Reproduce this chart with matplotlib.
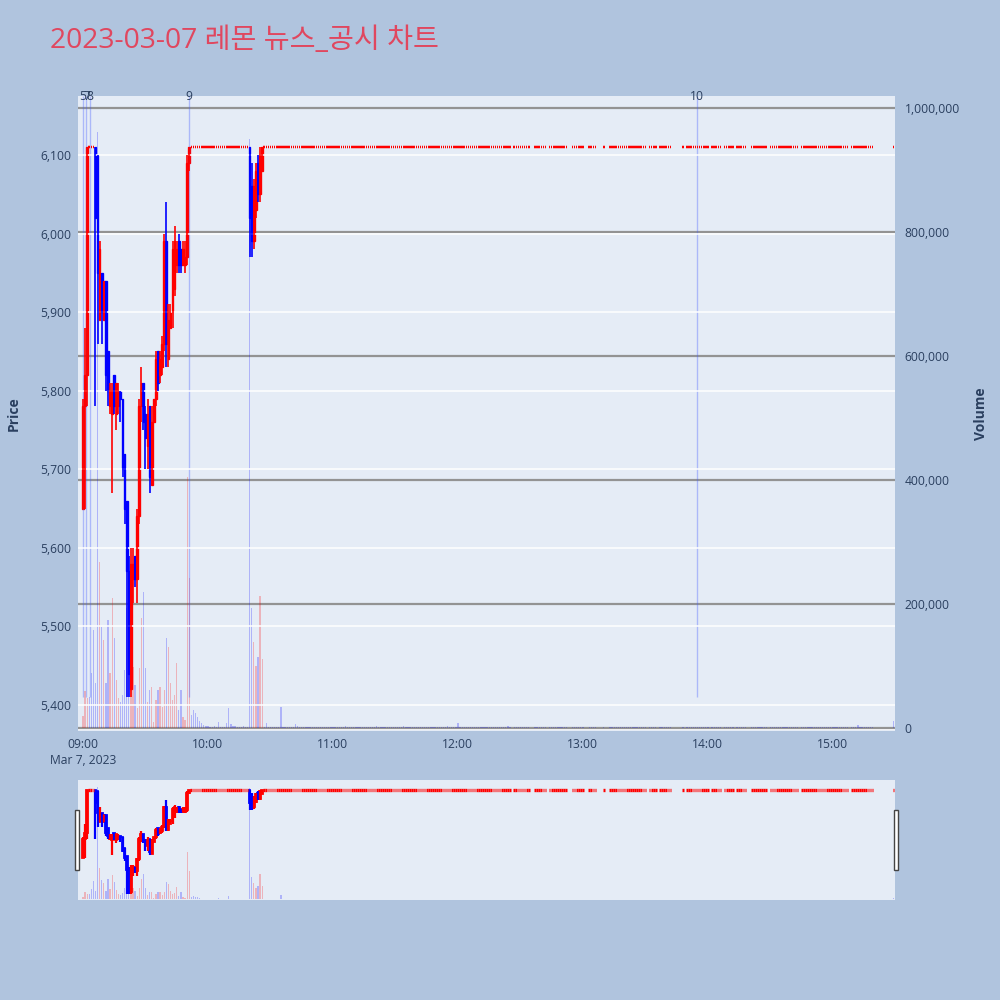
import matplotlib
matplotlib.use('Agg')
import matplotlib.pyplot as plt
from matplotlib.patches import Rectangle
from matplotlib.ticker import FuncFormatter

plt.rcParams['font.family'] = ['Open Sans', 'Noto Sans CJK KR', 'DejaVu Sans']

TITLE = '2023-03-07 레몬 뉴스_공시 차트'

# minutes after 09:00 -- busy opening hour (09:00 .. 09:51)
am_open = [5650, 5780, 5820, 6110, 6110, 6110, 6110, 6100, 5890, 5950,
           5890, 5940, 5850, 5780, 5770, 5820, 5770, 5780, 5800, 5790,
           5720, 5660, 5570, 5420, 5560, 5590, 5560, 5640, 5780, 5810,
           5770, 5730, 5780, 5680, 5760, 5790, 5850, 5820, 5830, 5860,
           5990, 5840, 5880, 5900, 5930, 5960, 5990, 5980, 5960, 5960,
           5970, 6090]
am_high = [5790, 5880, 6110, 6110, 6110, 6110, 6110, 6100, 5990, 5950,
           5940, 5940, 5850, 5810, 5810, 5820, 5810, 5810, 5800, 5790,
           5720, 5660, 5590, 5600, 5600, 5590, 5650, 5790, 5830, 5810,
           5780, 5790, 5780, 5780, 5790, 5850, 5850, 5850, 5870, 6000,
           6040, 5910, 5910, 5990, 6010, 5990, 6000, 5980, 5990, 5990,
           6100, 6110]
am_low = [5650, 5650, 5780, 6110, 6110, 6110, 5780, 5860, 5890, 5860,
          5890, 5800, 5780, 5770, 5670, 5770, 5750, 5770, 5760, 5690,
          5630, 5410, 5410, 5410, 5530, 5550, 5530, 5630, 5760, 5750,
          5700, 5700, 5670, 5680, 5760, 5780, 5800, 5810, 5820, 5850,
          5830, 5830, 5880, 5880, 5920, 5950, 5950, 5950, 5960, 5950,
          5960, 6080]
am_close = [5780, 5820, 6110, 6110, 6110, 6110, 6020, 5950, 5980, 5900,
            5940, 5820, 5800, 5800, 5800, 5780, 5810, 5800, 5790, 5700,
            5650, 5570, 5440, 5580, 5580, 5560, 5640, 5780, 5810, 5760,
            5740, 5770, 5690, 5760, 5790, 5840, 5810, 5840, 5860, 5990,
            5860, 5890, 5900, 5980, 5990, 5980, 5960, 5960, 5980, 5970,
            6090, 6110]
am_vol = [20000, 60000, 48000, 50000, 89000, 158000, 72000, 962000, 268000, 163000,
          142000, 72000, 174000, 89000, 210000, 145000, 77000, 48000, 42000, 53000,
          94000, 194000, 98000, 97000, 98000, 69000, 32000, 97000, 177000, 219000,
          97000, 42000, 61000, 66000, 10000, 45000, 61000, 66000, 34000, 61000,
          145000, 131000, 72000, 45000, 53000, 105000, 29000, 61000, 18000, 13000,
          405000, 242000]

# second burst around 10:20
burst_min = [80, 81, 82, 83, 84, 85, 86]
burst_open = [6110, 6060, 5990, 6030, 6090, 6050, 6080]
burst_high = [6110, 6090, 6070, 6090, 6100, 6110, 6110]
burst_low = [5970, 5970, 5980, 6020, 6040, 6040, 6080]
burst_close = [6020, 5990, 6060, 6080, 6050, 6100, 6110]
burst_vol = [950000, 194000, 139000, 100000, 115000, 213000, 111000]

# minutes trading flat at the upper price
flat_price = 6110
flat_runs = [(52, 79), (87, 205), (207, 214), (217, 222), (224, 232), (235, 240),
             (243, 246), (250, 250), (253, 270), (272, 275), (277, 282), (288, 288),
             (290, 300), (302, 306), (308, 312), (314, 318), (321, 328), (330, 343),
             (345, 353), (354, 361), (362, 367), (369, 379), (389, 389)]
flat_vol_default = 1200
flat_vol_min = [52, 53, 54, 55, 56, 57, 58, 59, 60, 61, 62, 63, 64, 65, 66, 67, 68, 69,
                70, 71, 72, 73, 74, 75, 76, 77, 78, 79, 88, 95, 102, 103, 126, 141,
                154, 175, 180, 204, 372, 389]
flat_vol_val = [21000, 29000, 24000, 18000, 12000, 8000, 5000, 4000, 3000, 2000, 2000,
                3000, 1000, 10000, 2000, 1000, 2000, 8000, 32000, 6000, 3000, 4000,
                2000, 1000, 1000, 4000, 1000, 1000, 8000, 34000, 6000, 4000, 3000,
                3000, 3000, 3000, 8000, 3000, 5000, 11000]

# disclosure / news markers
news_min = [0.0, 1.6, 3.2, 50.9, 294.7]
news_label = ['5', '7', '8', '9', '10']

tick_min = [0, 60, 120, 180, 240, 300, 360]
tick_lab = ['09:00\nMar 7, 2023', '10:00', '11:00', '12:00', '13:00', '14:00', '15:00']

# assemble
flat_min = [m for a, b in flat_runs for m in range(a, b + 1)]
am_min = list(range(len(am_open)))
mins = am_min + burst_min + flat_min
opens = am_open + burst_open + [flat_price] * len(flat_min)
highs = am_high + burst_high + [flat_price] * len(flat_min)
lows = am_low + burst_low + [flat_price] * len(flat_min)
closes = am_close + burst_close + [flat_price] * len(flat_min)
fv = dict(zip(flat_vol_min, flat_vol_val))
vols = am_vol + burst_vol + [fv.get(m, flat_vol_default) for m in flat_min]

UP, DOWN = '#ff0000', '#0000ff'
VUP, VDOWN = (1, 0, 0, 0.24), (0, 0, 1, 0.24)
BG, PLOT_BG, TXT = '#b0c4de', '#e5ecf6', '#2a3f5f'
XLIM = (-2.4, 389.8)
PLIM = (5367, 6175)
VLIM = (-4800, 1019400)


def draw(axp, axv, body_w, lw):
    vcol = [VUP if c > o else VDOWN for o, c in zip(opens, closes)]
    axv.bar(mins, vols, width=0.6, color=vcol, linewidth=0)
    ccol = [UP if c >= o else DOWN for o, c in zip(opens, closes)]
    axp.vlines(mins, lows, highs, colors=ccol, lw=lw)
    for m, o, c, col in zip(mins, opens, closes, ccol):
        if o == c:
            axp.hlines(c, m - body_w / 2, m + body_w / 2, color=col, lw=lw * 1.5)
        else:
            axp.bar(m, abs(c - o), bottom=min(o, c), width=body_w,
                    color=col, edgecolor=col, lw=lw * 0.8)


fig = plt.figure(figsize=(10, 10), dpi=100, facecolor=BG)

# main chart
axv = fig.add_axes([0.078, 0.269, 0.817, 0.635], facecolor=PLOT_BG)
axp = axv.twinx()
axp.set_zorder(axv.get_zorder() + 1)
axp.patch.set_visible(False)
draw(axp, axv, 0.75, 1.2)

axv.set_xlim(*XLIM)
axv.set_ylim(*VLIM)
axp.set_ylim(*PLIM)
axv.yaxis.tick_right()
axv.yaxis.set_label_position('right')
axp.yaxis.tick_left()
axp.yaxis.set_label_position('left')
axv.set_yticks([0, 200000, 400000, 600000, 800000, 1000000])
axv.yaxis.set_major_formatter(FuncFormatter(lambda v, p: f'{int(v):,}'))
axp.set_yticks(range(5400, 6101, 100))
axp.yaxis.set_major_formatter(FuncFormatter(lambda v, p: f'{int(v):,}'))
axv.grid(axis='y', color='#939393', lw=1.6)
axv.axhline(0, color='white', lw=2, zorder=0.5)
axp.grid(axis='y', color='white', lw=1.1)
axv.set_axisbelow(True)
axv.set_xticks(tick_min)
axv.set_xticklabels(tick_lab, linespacing=1.3)
for a in (axv, axp):
    for s in a.spines.values():
        s.set_visible(False)
    a.tick_params(length=0, labelsize=8.7, labelcolor=TXT)
axv.tick_params(axis='x', pad=5)
axv.tick_params(axis='y', pad=7)
axp.tick_params(axis='y', pad=5)
axp.set_ylabel('Price', fontsize=10, fontweight='bold', color=TXT, labelpad=14)
axv.set_ylabel('Volume', fontsize=10, fontweight='bold', color=TXT, labelpad=10)

# news markers
axp.vlines(news_min, 5410, PLIM[1], color=(0.25, 0.35, 1, 0.35), lw=1, zorder=1)
for m, lab in zip(news_min, news_label):
    axp.text(m, 0.999, lab, transform=axp.get_xaxis_transform(), ha='center',
             va='center', fontsize=8.7, color=TXT)

# range slider
nv = fig.add_axes([0.078, 0.100, 0.817, 0.120], facecolor=PLOT_BG)
np_ = nv.twinx()
np_.set_zorder(nv.get_zorder() + 1)
np_.patch.set_visible(False)
draw(np_, nv, 0.8, 1.6)
nv.set_xlim(*XLIM)
nv.set_ylim(*VLIM)
np_.set_ylim(*PLIM)
for a in (nv, np_):
    a.set_xticks([])
    a.set_yticks([])
    for s in a.spines.values():
        s.set_visible(False)
for x0 in (0.0745, 0.8935):
    fig.patches.append(Rectangle((x0, 0.130), 0.0040, 0.060, transform=fig.transFigure,
                                 facecolor='white', edgecolor='#444444', lw=1))

fig.text(0.05, 0.959, TITLE, fontsize=20.3, color='#e0475f', ha='left', va='center')

fig.savefig('out.png', dpi=100, facecolor=BG)
